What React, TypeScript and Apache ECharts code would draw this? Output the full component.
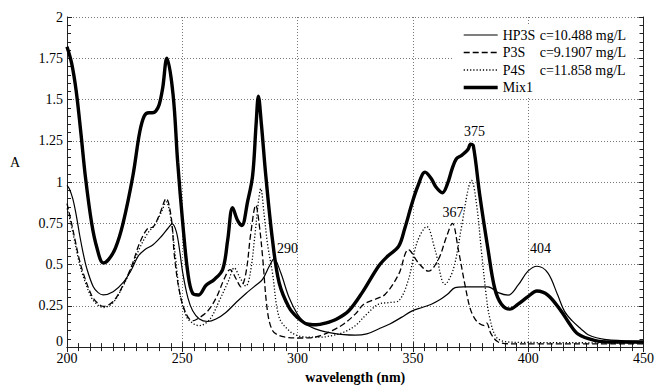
import React, { useEffect, useRef } from "react";
import * as echarts from "echarts";

// ---- data ----
const seriesNames = ["HP3S", "P3S", "P4S", "Mix1"];
const concentrations = ["c=10.488 mg/L", "c=9.1907 mg/L", "c=11.858 mg/L", ""];

const hp3sWl = [200, 201, 202.5, 204, 205.6, 207, 208.5, 211.4, 213.5, 215.7, 220, 224.3, 228, 230.8, 233.7, 237.3, 240.9, 243.8, 245.6, 247.4, 248.8, 250.2, 252.4, 254.5, 257.4, 261, 264.6, 268.9, 273.3, 277.6, 281.9, 284.8, 287.7, 289.8, 292.7, 296.3, 299.9, 303, 306, 310, 315, 320, 325, 330, 335.1, 340, 345, 349.5, 354, 358, 362, 365, 368.3, 372, 376, 382.6, 387, 391.3, 395.6, 399.9, 403.8, 408.5, 412.8, 415.7, 419, 422.9, 426, 430, 436, 450];
const hp3sA = [0.98, 0.96, 0.9, 0.8, 0.67, 0.57, 0.48, 0.365, 0.33, 0.316, 0.335, 0.39, 0.47, 0.55, 0.59, 0.62, 0.67, 0.72, 0.747, 0.7, 0.59, 0.45, 0.3, 0.22, 0.17, 0.155, 0.17, 0.21, 0.27, 0.325, 0.375, 0.41, 0.49, 0.535, 0.45, 0.3, 0.2, 0.15, 0.12, 0.1, 0.085, 0.075, 0.072, 0.08, 0.11, 0.14, 0.18, 0.218, 0.24, 0.26, 0.29, 0.32, 0.36, 0.365, 0.365, 0.365, 0.33, 0.315, 0.375, 0.46, 0.49, 0.45, 0.315, 0.218, 0.16, 0.11, 0.075, 0.055, 0.042, 0.036];

const p3sWl = [200, 201.5, 203.5, 205, 207, 210.6, 213, 215.7, 220, 224.3, 228, 231.5, 235.1, 237.3, 240.2, 243, 245.2, 246.6, 248.8, 251.7, 254.5, 257.4, 261, 264.6, 268.2, 270.7, 273.3, 275.4, 277.6, 279.7, 281.9, 283.3, 284.8, 286.9, 289.1, 292, 294.8, 300, 305, 310, 315, 320, 325, 328.7, 333.7, 338, 343.8, 348.1, 352.4, 356.7, 361, 364.6, 367.1, 369.7, 372.6, 374.7, 376.5, 378.5, 381, 382, 383.9, 387, 392.6, 400, 450];
const p3sA = [0.87, 0.78, 0.65, 0.55, 0.45, 0.316, 0.27, 0.247, 0.276, 0.375, 0.49, 0.63, 0.72, 0.727, 0.806, 0.9, 0.786, 0.55, 0.335, 0.2, 0.159, 0.178, 0.218, 0.296, 0.414, 0.47, 0.414, 0.365, 0.45, 0.69, 0.86, 0.75, 0.55, 0.22, 0.1, 0.07, 0.06, 0.055, 0.056, 0.07, 0.1, 0.14, 0.2, 0.26, 0.29, 0.32, 0.44, 0.59, 0.51, 0.46, 0.53, 0.67, 0.75, 0.59, 0.375, 0.24, 0.18, 0.145, 0.13, 0.145, 0.08, 0.031, 0.02, 0.02, 0.02];

const p4sWl = [200, 201.5, 203.5, 205, 207, 210.6, 213, 215.7, 220, 224.3, 228, 231.5, 235, 238, 241, 243, 245, 247, 249, 252, 255, 257.4, 262, 266, 270, 272.5, 275, 277.6, 279.5, 281.5, 283, 284, 285.5, 287, 289.1, 292, 296.3, 300, 305, 310, 315, 320, 325, 330, 335.1, 340, 343.8, 348.1, 351.7, 356, 359.6, 363.9, 367.5, 371.1, 374, 375.4, 377.6, 379.8, 381.9, 383.3, 386.2, 391.3, 400, 450];
const p4sA = [0.84, 0.76, 0.63, 0.53, 0.43, 0.3, 0.26, 0.24, 0.27, 0.37, 0.48, 0.6, 0.69, 0.74, 0.82, 0.88, 0.78, 0.55, 0.32, 0.18, 0.14, 0.13, 0.17, 0.28, 0.4, 0.48, 0.42, 0.37, 0.45, 0.68, 0.88, 0.96, 0.8, 0.62, 0.45, 0.18, 0.1, 0.07, 0.06, 0.06, 0.07, 0.09, 0.13, 0.2, 0.26, 0.27, 0.28, 0.41, 0.63, 0.73, 0.59, 0.38, 0.47, 0.73, 0.96, 1.01, 0.865, 0.57, 0.3, 0.178, 0.06, 0.031, 0.028, 0.025];

const mix1Wl = [200, 202, 204, 206, 208, 210.7, 213, 215.7, 218, 221, 224.3, 228.6, 231.5, 233.5, 235.5, 237, 238.5, 240, 241.5, 243.3, 246, 248, 250.2, 252.4, 254.5, 257.1, 260.3, 263.9, 267.5, 269.7, 271.8, 274, 275.8, 278.3, 280.5, 282, 283, 284.3, 286.2, 289.1, 292, 296.3, 299.9, 304, 308, 312, 317, 322.2, 328, 335.1, 339, 343.8, 346.5, 349.5, 352, 355.3, 358, 360, 362.8, 365, 367, 368.8, 371, 372.7, 374, 375, 376.2, 379, 382.6, 385.5, 388.4, 392, 395.6, 399.9, 403.8, 408.5, 414.3, 418, 421.5, 428.7, 436, 450];
const mix1A = [1.82, 1.72, 1.55, 1.3, 1.03, 0.75, 0.6, 0.51, 0.53, 0.6, 0.75, 1.04, 1.3, 1.4, 1.42, 1.42, 1.43, 1.47, 1.57, 1.75, 1.53, 1.12, 0.75, 0.45, 0.325, 0.316, 0.375, 0.41, 0.47, 0.65, 0.845, 0.767, 0.737, 0.88, 1.04, 1.35, 1.52, 1.35, 1.04, 0.65, 0.39, 0.24, 0.18, 0.14, 0.135, 0.145, 0.17, 0.22, 0.33, 0.49, 0.55, 0.61, 0.72, 0.865, 0.97, 1.06, 1.02, 0.97, 0.935, 0.99, 1.08, 1.14, 1.16, 1.18, 1.2, 1.23, 1.22, 0.92, 0.59, 0.355, 0.26, 0.23, 0.26, 0.306, 0.34, 0.315, 0.218, 0.14, 0.08, 0.041, 0.031, 0.03];

// peak annotations
const peakSeries = ["HP3S", "P3S", "Mix1", "HP3S"];
const peakWl = [290, 367, 375, 404];
const peakA = [0.535, 0.75, 1.23, 0.49];
const peakText = ["290", "367", "375", "404"];
const peakOffsets = [[13, -10], [1, -11], [4, -13], [3, -18]];

const xTicks = { min: 200, max: 450, interval: 50 };
const yTicks = { min: 0, max: 2, interval: 0.25 };
const yAxisTitle = "A";
const xAxisTitle = "wavelength (nm)";

const FONT = "Liberation Serif";

export default function App() {
  const ref = useRef<HTMLDivElement>(null);
  useEffect(() => {
    if (!ref.current) return;
    const chart = echarts.init(ref.current, undefined, { renderer: "svg" });
    const wls = [hp3sWl, p3sWl, p4sWl, mix1Wl];
    const abs = [hp3sA, p3sA, p4sA, mix1A];
    const styles: any[] = [
      { width: 1.2, type: "solid" },
      { width: 1.3, type: [6, 3] },
      { width: 1.3, type: [1.2, 2] },
      { width: 3.4, type: "solid" },
    ];
    const series = seriesNames.map((name, si) => {
      const marks = peakSeries
        .map((s, i) => (s === name ? i : -1))
        .filter((i) => i >= 0)
        .map((i) => ({
          name: peakText[i],
          coord: [peakWl[i], peakA[i]],
          label: { offset: peakOffsets[i] },
        }));
      return {
        name,
        type: "line",
        data: wls[si].map((w, i) => [w, abs[si][i]]),
        showSymbol: false,
        symbol: "none",
        smooth: 0.35,
        z: si === 3 ? 5 : 3,
        lineStyle: { color: "#000", ...styles[si] },
        itemStyle: { color: "#000" },
        markPoint: marks.length
          ? {
              symbol: "circle",
              symbolSize: 1,
              itemStyle: { color: "rgba(0,0,0,0)" },
              label: {
                show: true,
                position: "inside",
                formatter: "{b}",
                color: "#000",
                fontFamily: FONT,
                fontSize: 14,
              },
              data: marks,
            }
          : undefined,
      };
    });

    const tickCommon = {
      axisLine: { show: true, lineStyle: { color: "#222", width: 1 } },
      axisTick: { show: true, inside: true, length: 5, lineStyle: { color: "#222" } },
      minorTick: { show: true, length: 4, lineStyle: { color: "#222" } },
    };

    chart.setOption({
      animation: false,
      backgroundColor: "#fff",
      textStyle: { fontFamily: FONT },
      grid: { left: 67, right: 11, top: 17, bottom: 32 },
      graphic: [
        {
          type: "text",
          left: 10,
          top: 155,
          style: { text: yAxisTitle, fill: "#000", fontFamily: FONT, fontSize: 14 },
        },
      ],
      legend: {
        orient: "vertical",
        left: 454,
        top: 25,
        padding: [3, 8, 3, 8],
        itemGap: 3.5,
        itemWidth: 34,
        itemHeight: 14,
        backgroundColor: "#fff",
        itemStyle: { opacity: 0, borderWidth: 0 },
        data: seriesNames.map((n, i) => ({
          name: n,
          lineStyle: { color: "#000", width: styles[i].width, type: styles[i].type },
        })),
        formatter: (name: string) => {
          const i = seriesNames.indexOf(name);
          return concentrations[i] ? `{n|${name}}{c|${concentrations[i]}}` : `{n|${name}}`;
        },
        textStyle: {
          color: "#000",
          fontFamily: FONT,
          fontSize: 14,
          rich: {
            n: { width: 37, fontFamily: FONT, fontSize: 14, color: "#000" },
            c: { fontFamily: FONT, fontSize: 14, color: "#000" },
          },
        },
      },
      xAxis: [
        {
          type: "value",
          ...xTicks,
          position: "bottom",
          name: xAxisTitle,
          nameLocation: "middle",
          nameGap: 21,
          nameTextStyle: { color: "#000", fontFamily: FONT, fontSize: 14, fontWeight: "bold" },
          ...tickCommon,
          minorTick: { ...tickCommon.minorTick, splitNumber: 10 },
          axisLabel: { color: "#000", fontFamily: FONT, fontSize: 14, margin: 4 },
          splitLine: { show: true, lineStyle: { color: "#777", type: [1, 2], width: 1 } },
        },
        {
          type: "value",
          ...xTicks,
          position: "top",
          ...tickCommon,
          minorTick: { ...tickCommon.minorTick, splitNumber: 10 },
          axisLabel: { show: false },
          splitLine: { show: false },
        },
      ],
      yAxis: [
        {
          type: "value",
          ...yTicks,
          position: "left",
          ...tickCommon,
          minorTick: { ...tickCommon.minorTick, splitNumber: 5 },
          axisLabel: {
            color: "#000",
            fontFamily: FONT,
            fontSize: 14,
            margin: 4,
            formatter: (v: number) => (v === 0 ? "{z|0}" : String(v)),
            rich: { z: { fontFamily: FONT, fontSize: 14, color: "#000", padding: [0, 0, 11, 0] } },
          },
          splitLine: { show: true, lineStyle: { color: "#777", type: [1, 2], width: 1 } },
        },
        {
          type: "value",
          ...yTicks,
          position: "right",
          ...tickCommon,
          minorTick: { ...tickCommon.minorTick, splitNumber: 5 },
          axisLabel: { show: false },
          splitLine: { show: false },
        },
      ],
      series,
    });
    return () => chart.dispose();
  }, []);
  return (
    <div
      ref={ref}
      style={{ position: "fixed", left: 0, top: 0, width: 657, height: 389, background: "#fff" }}
    />
  );
}
